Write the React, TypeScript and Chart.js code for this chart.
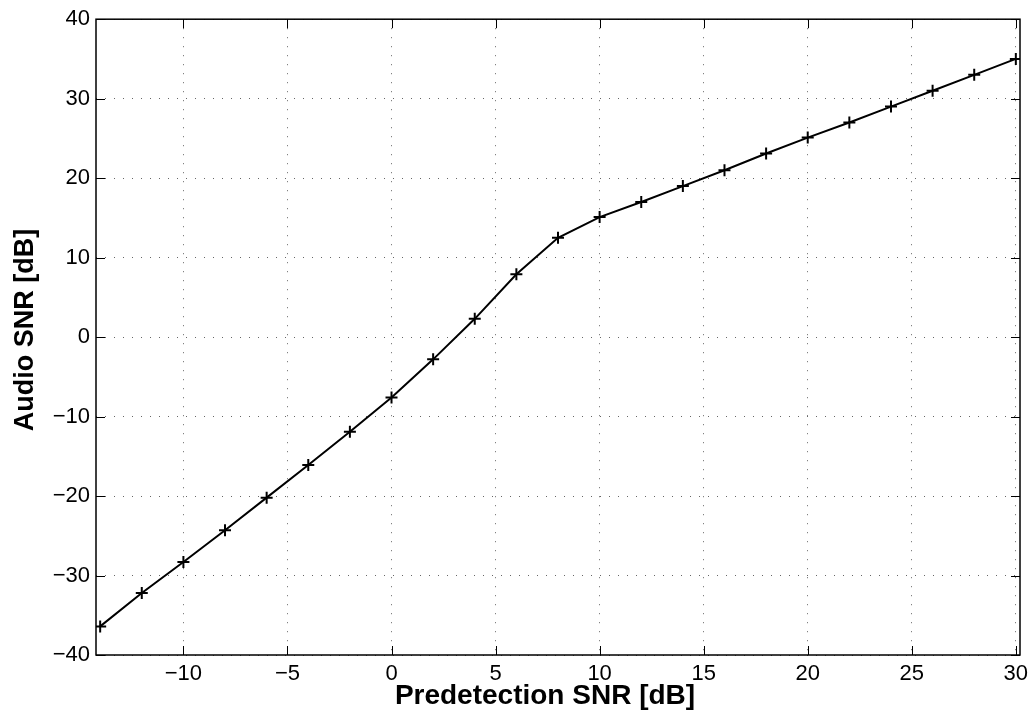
import React, { useEffect, useRef } from "react";
import { Chart, registerables } from "chart.js";

Chart.register(...registerables);

const predetectionSNR = [-14, -12, -10, -8, -6, -4, -2, 0, 2, 4, 6, 8, 10, 12, 14, 16, 18, 20, 22, 24, 26, 28, 30];
const audioSNR = [-36.4, -32.2, -28.3, -24.3, -20.2, -16.1, -11.9, -7.6, -2.8, 2.3, 7.9, 12.5, 15.1, 17.0, 19.0, 21.0, 23.1, 25.1, 27.0, 29.0, 31.0, 33.0, 35.0];
const xTicks = [-10, -5, 0, 5, 10, 15, 20, 25, 30];
const yTicks = [-40, -30, -20, -10, 0, 10, 20, 30, 40];
const xRange = [-14.2, 30.2];
const yRange = [-40, 40];
const xTitle = "Predetection SNR [dB]";
const yTitle = "Audio SNR [dB]";

const fmt = (v: number) => (v < 0 ? "\u2212" + Math.abs(v) : String(v));
const FONT = "'Liberation Sans', Arial, Helvetica, sans-serif";

const boxPlugin = {
  id: "boxTicks",
  afterDatasetsDraw(chart: any) {
    const { ctx, chartArea } = chart;
    const { left, right, top, bottom } = chartArea;
    const xs = chart.scales.x;
    const ys = chart.scales.y;
    const L = 9;
    ctx.save();
    ctx.strokeStyle = "#000";
    ctx.lineWidth = 1;
    ctx.beginPath();
    xTicks.forEach((t) => {
      const px = Math.round(xs.getPixelForValue(t)) + 0.5;
      ctx.moveTo(px, bottom);
      ctx.lineTo(px, bottom - L);
      ctx.moveTo(px, top);
      ctx.lineTo(px, top + L);
    });
    yTicks.forEach((t) => {
      const py = Math.round(ys.getPixelForValue(t)) + 0.5;
      ctx.moveTo(left, py);
      ctx.lineTo(left + L, py);
      ctx.moveTo(right, py);
      ctx.lineTo(right - L, py);
    });
    ctx.stroke();
    ctx.lineWidth = 1.5;
    ctx.strokeRect(left, top, right - left, bottom - top);

    // axis titles (MATLAB-style placement, slightly off-centre)
    ctx.fillStyle = "#000";
    ctx.textAlign = "center";
    ctx.textBaseline = "alphabetic";
    ctx.font = `bold 28px ${FONT}`;
    ctx.fillText(xTitle, (left + right) / 2 - 13, bottom + 49);
    ctx.translate(33, (top + bottom) / 2 - 7);
    ctx.rotate(-Math.PI / 2);
    ctx.font = `bold 27px ${FONT}`;
    ctx.fillText(yTitle, 0, 0);
    ctx.restore();
  },
};

export default function App() {
  const ref = useRef<HTMLCanvasElement>(null);
  useEffect(() => {
    if (!ref.current) return;
    const chart = new Chart(ref.current, {
      type: "line",
      data: {
        datasets: [
          {
            data: predetectionSNR.map((x, i) => ({ x, y: audioSNR[i] })),
            borderColor: "#000",
            borderWidth: 2,
            pointStyle: "cross",
            pointRadius: 6,
            pointBorderWidth: 2,
            pointBorderColor: "#000",
            pointBackgroundColor: "#000",
            tension: 0,
          },
        ],
      },
      options: {
        animation: false,
        responsive: false,
        maintainAspectRatio: false,
        plugins: { legend: { display: false }, tooltip: { enabled: false } },
        layout: { padding: { top: 17, right: 15, left: 0, bottom: 0 } },
        scales: {
          x: {
            type: "linear",
            min: xRange[0],
            max: xRange[1],
            afterBuildTicks: (s: any) => {
              s.ticks = xTicks.map((v) => ({ value: v }));
            },
            afterFit: (s: any) => {
              s.height = 66;
            },
            grid: { color: "#666", lineWidth: 1, drawTicks: false },
            border: { display: false, dash: [1, 8] },
            ticks: {
              color: "#000",
              padding: 6,
              maxRotation: 0,
              font: { family: FONT, size: 22 },
              callback: (v: any) => fmt(Number(v)),
            },
            title: { display: false },
          },
          y: {
            type: "linear",
            min: yRange[0],
            max: yRange[1],
            afterBuildTicks: (s: any) => {
              s.ticks = yTicks.map((v) => ({ value: v }));
            },
            afterFit: (s: any) => {
              s.width = 96;
            },
            grid: { color: "#666", lineWidth: 1, drawTicks: false },
            border: { display: false, dash: [1, 8] },
            ticks: {
              color: "#000",
              padding: 6,
              font: { family: FONT, size: 22 },
              callback: (v: any) => fmt(Number(v)),
            },
            title: { display: false },
          },
        },
      },
      plugins: [boxPlugin],
    });
    return () => chart.destroy();
  }, []);
  return (
    <div style={{ position: "fixed", left: 0, top: 0, width: 1035, height: 721, background: "#fff" }}>
      <canvas ref={ref} width={1035} height={721} style={{ width: 1035, height: 721, display: "block" }} />
    </div>
  );
}
